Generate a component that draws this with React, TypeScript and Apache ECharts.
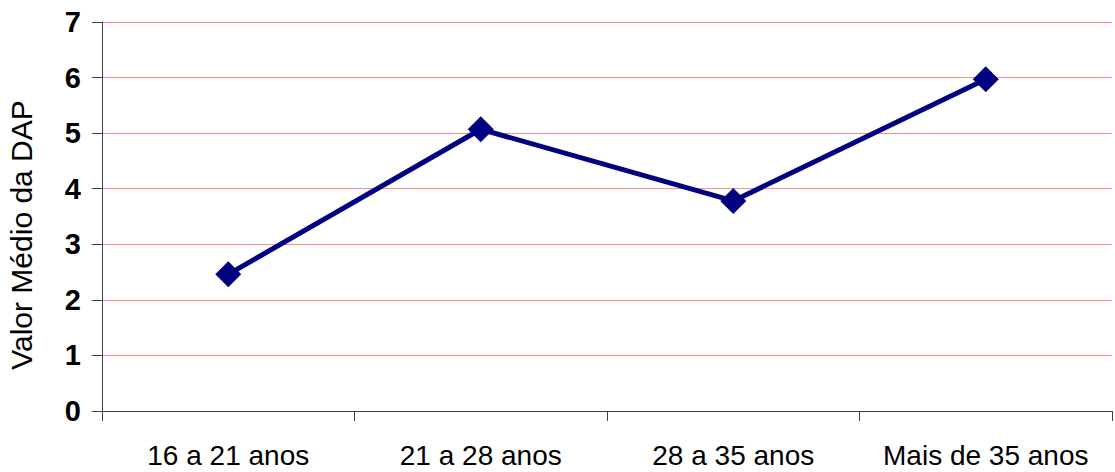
import React, { useEffect, useRef } from "react";
import * as echarts from "echarts";

// Age groups on the x axis
const categories = ["16 a 21 anos", "21 a 28 anos", "28 a 35 anos", "Mais de 35 anos"];
// Mean DAP value per age group
const dapMean = [2.46, 5.07, 3.78, 5.97];
// Y axis range
const yTicks = [0, 1, 2, 3, 4, 5, 6, 7];
const yTitle = "Valor Médio da DAP";

export default function App() {
  const ref = useRef<HTMLDivElement>(null);

  useEffect(() => {
    if (!ref.current) return;
    const chart = echarts.init(ref.current, null, { renderer: "svg" });
    const font = "'Liberation Sans', Arial, sans-serif";
    chart.setOption({
      animation: false,
      backgroundColor: "#ffffff",
      grid: {
        left: 102,
        right: 3,
        top: 22,
        bottom: 61,
        containLabel: false,
        outerBoundsMode: "none",
      },
      // rotated y-axis title, placed beside the tick labels
      graphic: [
        {
          type: "text",
          x: 21,
          y: 235,
          rotation: Math.PI / 2,
          style: {
            text: yTitle,
            fontSize: 30,
            fontFamily: font,
            fill: "#000",
            align: "center",
            verticalAlign: "middle",
          },
        },
      ],
      xAxis: {
        type: "category",
        data: categories,
        boundaryGap: true,
        axisLine: { show: true, lineStyle: { color: "#404040", width: 1 } },
        axisTick: { show: true, alignWithLabel: false, length: 10, interval: 0, lineStyle: { color: "#404040" } },
        axisLabel: { interval: 0, margin: 30, fontSize: 28, color: "#000", fontFamily: font },
        splitLine: { show: false },
      },
      yAxis: {
        type: "value",
        min: yTicks[0],
        max: yTicks[yTicks.length - 1],
        interval: 1,
        axisLine: { show: true, lineStyle: { color: "#404040", width: 1 } },
        axisTick: { show: true, length: 10, lineStyle: { color: "#404040" } },
        axisLabel: { margin: 21, fontSize: 29, fontWeight: "bold", color: "#000", fontFamily: font },
        splitLine: { show: true, lineStyle: { color: "#ff8c8c", width: 1 } },
      },
      series: [
        {
          type: "line",
          data: dapMean,
          symbol: "diamond",
          symbolSize: 26,
          lineStyle: { color: "#000080", width: 5 },
          itemStyle: { color: "#000080" },
        },
      ],
    });
    return () => chart.dispose();
  }, []);

  return (
    <div
      ref={ref}
      style={{ position: "absolute", left: 0, top: 0, width: 1115, height: 472 }}
    />
  );
}
